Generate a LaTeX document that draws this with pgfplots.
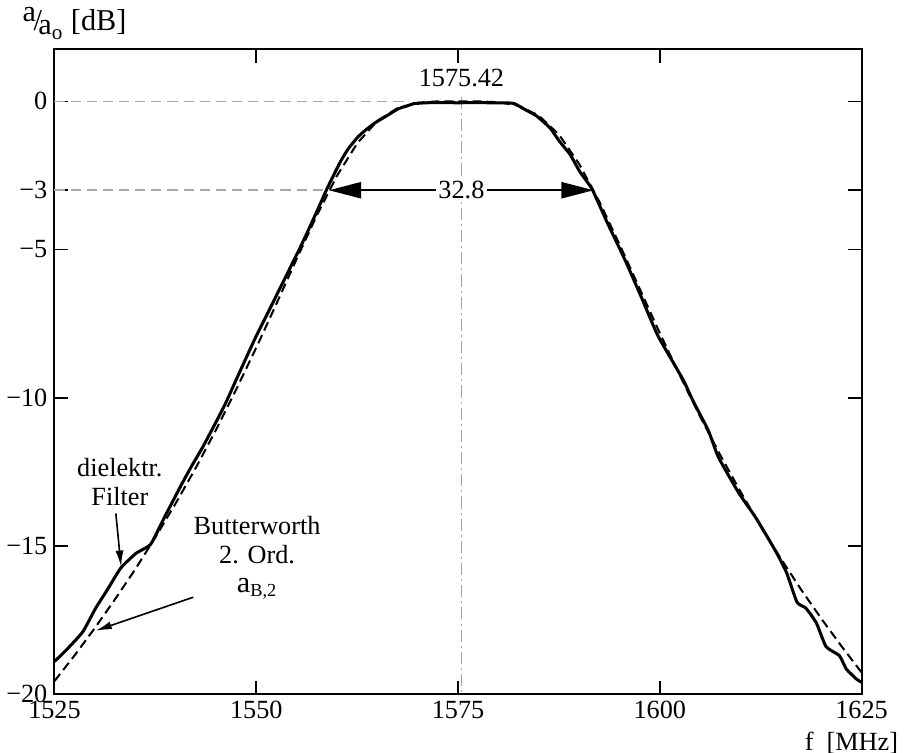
\documentclass[border=0pt]{standalone}
\usepackage{fontspec}
\setmainfont{Liberation Serif}
\usepackage{pgfplots}
\pgfplotsset{compat=1.18}
\usetikzlibrary{arrows.meta}
\newcommand\fs{\fontsize{13}{14.5}\selectfont}

% measured filter response (dielektr. Filter)
\pgfplotstableread{
f       a
1525    -18.9
1526.5  -18.5
1528.5  -17.9
1530.1  -17.1
1531.5  -16.5
1533.2  -15.75
1535.1  -15.25
1536.9  -14.95
1538.5  -14.1
1540.6  -13.0
1541.9  -12.35
1543.5  -11.6
1546    -10.3
1547.5  -9.4
1549.75 -8.06
1551.5  -7.1
1553.5  -6.0
1555.5  -4.9
1557.2  -3.9
1558.75 -2.96
1559.75 -2.4
1560.5  -2.0
1561.4  -1.6
1562.6  -1.2
1563.5  -0.98
1564.75 -0.72
1566.4  -0.45
1567.6  -0.25
1568.75 -0.15
1569.5  -0.08
1571    -0.05
1573    -0.04
1575    -0.05
1577    -0.04
1579    -0.05
1581    -0.05
1582    -0.08
1583.25 -0.27
1584.75 -0.5
1586.4  -0.9
1587.6  -1.36
1588.9  -1.8
1590.1  -2.38
1591.6  -2.96
1593.5  -4.1
1595.6  -5.3
1597.7  -6.6
1599.75 -7.9
1602.9  -9.4
1604.1  -10.1
1606    -11.1
1607.25 -12.0
1609.75 -13.2
1611.9  -14.05
1614.4  -15.2
1615.7  -15.9
1617    -16.9
1618.1  -17.1
1619.4  -17.6
1620.6  -18.4
1622.25 -18.7
1623.1  -19.15
1624.4  -19.5
1625    -19.6
}\measured

% Butterworth 2nd order
\pgfplotstableread{
f       a
1525    -19.56
1527.5  -18.69
1530    -17.77
1532.5  -16.80
1535    -15.79
1537.5  -14.71
1540    -13.57
1542.5  -12.37
1545    -11.09
1547.5  -9.73
1550    -8.31
1552.5  -6.83
1555    -5.32
1557.5  -3.85
1560    -2.51
1562.5  -1.42
1565    -0.66
1567.5  -0.23
1570    -0.05
1572.5  0.00
1575    0.00
1577.5  0.00
1580    -0.03
1582.5  -0.15
1585    -0.48
1587.5  -1.12
1590    -2.11
1592.5  -3.38
1595    -4.82
1597.5  -6.32
1600    -7.82
1602.5  -9.26
1605    -10.64
1607.5  -11.94
1610    -13.17
1612.5  -14.34
1615    -15.43
1617.5  -16.47
1620    -17.45
1622.5  -18.38
1625    -19.27
}\butter

\begin{document}
\begin{tikzpicture}
\begin{axis}[
  scale only axis,
  width=400pt, height=319.5pt,
  xmin=1525, xmax=1625, ymin=-20, ymax=1.75,
  xtick={1525,1550,1575,1600,1625},
  ytick={-20,-15,-10,-5,-3,0},
  yticklabels={−20,−15,−10,−5,−3,0},
  tick align=inside,
  major tick length=6.5pt,
  tick style={black, line width=0.8pt},
  axis line style={line width=1pt},
  /pgf/number format/assume math mode=true,
  /pgf/number format/1000 sep={},
  tick label style={font=\fs},
  clip=false,
]
% reference lines
\draw[gray!70, dashed, line width=0.8pt, dash pattern=on 5pt off 3pt]
  (axis cs:1525,0) -- (axis cs:1568.3,0);
\draw[gray!70, dashed, line width=0.8pt, dash pattern=on 5pt off 3pt]
  (axis cs:1525,-3) -- (axis cs:1558.5,-3);
\draw[gray!70, line width=0.8pt, dash pattern=on 6pt off 2pt on 1pt off 2pt]
  (axis cs:1575.42,0.15) -- (axis cs:1575.42,-20);

\addplot[black, dashed, line width=1pt, dash pattern=on 4.5pt off 2.5pt] table[x=f,y=a] {\butter};
\addplot[black, line width=1.5pt, smooth, tension=0.3] table[x=f,y=a] {\measured};

% annotations
\node[font=\fs] at (axis cs:1575.42,0.78) {1575.42};
\draw[line width=1pt, -{Triangle[length=16pt,width=8pt]}]
  (axis cs:1572.3,-3) -- (axis cs:1559,-3);
\draw[line width=1pt, -{Triangle[length=16pt,width=8pt]}]
  (axis cs:1578.6,-3) -- (axis cs:1591.8,-3);
\node[font=\fs, fill=white, inner sep=1pt] at (axis cs:1575.42,-3) {32.8};

\node[font=\fs, align=center] at (axis cs:1533.1,-12.85) {dielektr.\\Filter};
\draw[line width=0.8pt, -{Latex[length=8pt,width=4pt]}]
  (axis cs:1532.6,-13.9) -- (axis cs:1533.25,-15.7);

\node[font=\fs, align=center] at (axis cs:1550.1,-15.4)
  {Butterworth\\2. Ord.\\{\fontsize{15}{15}\selectfont a}\textsubscript{B,2}};
\draw[line width=0.8pt, -{Latex[length=8pt,width=4pt]}]
  (axis cs:1542.2,-16.73) -- (axis cs:1530.1,-17.86);

% axis labels
\node[font=\fontsize{15}{16}\selectfont, anchor=base west, inner sep=0pt] at (rel axis cs:-0.04,1.03)
  {\raisebox{0.3em}{a}\kern-0.08em/\kern-0.12em\raisebox{-0.15em}{a\textsubscript{o}}\ [dB]};
\node[font=\fs, anchor=north east] at (rel axis cs:1.054,-0.047) {f\ \ [MHz]};

\coordinate (bl) at (rel axis cs:-0.0675,-0.0908);
\coordinate (tr) at (rel axis cs:1.0575,1.0767);
\end{axis}
\pgfresetboundingbox
\path (bl) rectangle (tr);
\end{tikzpicture}
\end{document}
